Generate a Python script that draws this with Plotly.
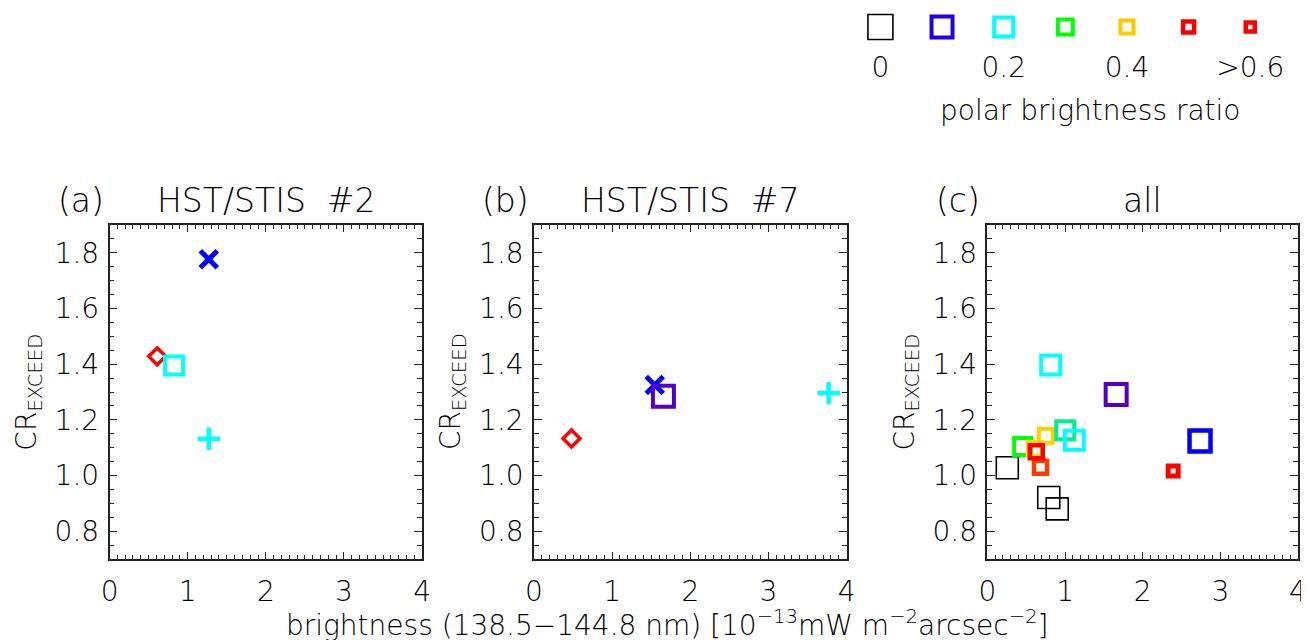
import plotly.graph_objects as go

W, H = 1309, 640

# ---------------- data ----------------
# panel (a) HST/STIS #2
a_diamond_x, a_diamond_y = [0.61], [1.428]
a_square_x, a_square_y = [0.826], [1.395]
a_cross_x, a_cross_y = [1.27], [1.777]
a_plus_x, a_plus_y = [1.27], [1.132]

# panel (b) HST/STIS #7
b_diamond_x, b_diamond_y = [0.48], [1.133]
b_cross_x, b_cross_y = [1.545], [1.325]
b_square_x, b_square_y = [1.656], [1.285]
b_plus_x, b_plus_y = [3.77], [1.296]

# panel (c) all  (brightness, CR_EXCEED, polar brightness ratio)
c_x = [0.256, 0.79, 0.899, 0.453, 0.61, 0.752, 1.002, 1.119, 0.815, 1.658, 2.738, 0.684, 0.629, 2.392]
c_y = [1.028, 0.921, 0.880, 1.104, 1.096, 1.143, 1.163, 1.127, 1.397, 1.291, 1.124, 1.030, 1.085, 1.016]
c_ratio = [0.0, 0.0, 0.0, 0.30, 0.37, 0.40, 0.25, 0.20, 0.20, 0.08, 0.10, 0.55, 0.50, 0.70]

# legend of the colour scale
leg_ratio = [0.0, 0.1, 0.2, 0.3, 0.4, 0.5, 0.6]
leg_tickvals = [0.0, 0.2, 0.4, 0.6]
leg_ticktext = ["0", "0.2", "0.4", ">0.6"]

# ---------------- styles ----------------
c_color = ["#000000", "#000000", "#000000", "#00ff00", "#ffe000", "#ffd000", "#00f090",
           "#00ffff", "#00ffff", "#5000c8", "#0000ff", "#ff3a00", "#ff0000", "#ff0000"]
c_size = [22, 22, 22, 17, 14, 14, 18, 19, 19, 21, 21, 13, 13, 10]
c_lw = [1.6, 1.6, 1.6, 4, 4, 4, 4, 4, 4, 4, 4.5, 4.5, 4.5, 5]
leg_color = ["#000000", "#2000f0", "#00ffff", "#00ff00", "#ffc800", "#ff0000", "#ff0000"]
leg_size = [25, 21, 19, 15, 13, 11, 9]
leg_lw = [1.6, 4, 4, 4, 4, 4.5, 4.5]

FONT = "DejaVu Sans"
AXC = "#222222"
TICK_FS = 28
TITLE_FS = 33

fig = go.Figure()

def add(x, y, xa, ya, symbol, color, size, lw):
    fig.add_trace(go.Scatter(x=x, y=y, xaxis=xa, yaxis=ya, mode="markers",
                             marker=dict(symbol=symbol, color=color, size=size, opacity=1,
                                         line=dict(color=color, width=lw)),
                             showlegend=False, hoverinfo="x+y"))

# panel a
add(a_diamond_x, a_diamond_y, "x", "y", "diamond-open", "#ff0000", 13, 3.5)
add(a_square_x, a_square_y, "x", "y", "square-open", "#00ffff", 18, 4)
add(a_cross_x, a_cross_y, "x", "y", "x-thin-open", "#0000ff", 17, 5)
add(a_plus_x, a_plus_y, "x", "y", "cross-thin-open", "#00ffff", 16, 4.5)
# panel b
add(b_diamond_x, b_diamond_y, "x2", "y2", "diamond-open", "#ff0000", 13, 3.5)
add(b_cross_x, b_cross_y, "x2", "y2", "x-thin-open", "#0000ff", 17, 5)
add(b_square_x, b_square_y, "x2", "y2", "square-open", "#5000c8", 21, 4)
add(b_plus_x, b_plus_y, "x2", "y2", "cross-thin-open", "#00ffff", 16, 4.5)
# panel c
fig.add_trace(go.Scatter(x=c_x, y=c_y, xaxis="x3", yaxis="y3", mode="markers",
                         customdata=c_ratio,
                         marker=dict(symbol="square-open", color=c_color, size=c_size, opacity=1,
                                     line=dict(color=c_color, width=c_lw)),
                         showlegend=False))
# colour legend
fig.add_trace(go.Scatter(x=leg_ratio, y=[0] * len(leg_ratio), xaxis="x4", yaxis="y4",
                         mode="markers",
                         marker=dict(symbol="square-open", color=leg_color, size=leg_size, opacity=1,
                                     line=dict(color=leg_color, width=leg_lw)),
                         showlegend=False, hoverinfo="x"))

# page offset compensation (figure is rendered slightly offset / narrowed)
OX, SX, OY = 15.35, 0.9875, 8.0

def clamp(v):
    return max(0.0, min(1.0, v))

def px_x(p):
    return clamp((p - OX) / (W * SX))

def px_y(p):
    return clamp(1 - (p - OY) / H)

ydom = [px_y(559), px_y(225)]
panels = [(108, 421), (533, 846), (987, 1298)]

common = dict(showline=True, linecolor=AXC, linewidth=1.6, mirror="ticks",
              ticks="inside", tickcolor=AXC, tickwidth=1.3, showgrid=False,
              zeroline=False, tickfont=dict(family=FONT, size=TICK_FS, color="black", weight=300))

layout = dict(width=W, height=H, margin=dict(l=0, r=0, t=0, b=0),
              paper_bgcolor="white", plot_bgcolor="white", showlegend=False,
              font=dict(family=FONT, color="black"))

for i, (l, r) in enumerate(panels):
    s = "" if i == 0 else str(i + 1)
    layout["xaxis" + s] = dict(common, domain=[px_x(l), px_x(r)], range=[0, 4],
                               dtick=1, ticklen=7, anchor="y" + s,
                               ticklabelstandoff=7,
                               minor=dict(ticks="inside", dtick=0.1, ticklen=4,
                                          tickcolor=AXC, tickwidth=1.2))
    layout["yaxis" + s] = dict(common, domain=ydom, range=[0.7, 1.9],
                               tickvals=[0.8, 1.0, 1.2, 1.4, 1.6, 1.8],
                               ticktext=["0.8", "1.0", "1.2", "1.4", "1.6", "1.8"],
                               ticklen=8, anchor="x" + s, ticklabelstandoff=3,
                               minor=dict(ticks="inside", tickvals=[0.75 + 0.05 * k for k in range(23)],
                                          ticklen=5, tickcolor=AXC, tickwidth=1.2))

layout["xaxis4"] = dict(domain=[px_x(849), px_x(1281)], range=[-0.05, 0.65], anchor="y4",
                        showline=False, showgrid=False, zeroline=False, ticks="",
                        tickvals=leg_tickvals, ticktext=leg_ticktext,
                        ticklabelstandoff=0,
                        tickfont=dict(family=FONT, size=TICK_FS, color="black", weight=300))
layout["yaxis4"] = dict(domain=[px_y(48), px_y(8)], range=[-21, 19], visible=False, anchor="x4")

fig.update_layout(**layout)

titles = [("(a)", "HST/STIS  #2"), ("(b)", "HST/STIS  #7"), ("(c)", "all")]
for i, ((l, r), (lab, ttl)) in enumerate(zip(panels, titles)):
    s = "" if i == 0 else str(i + 1)
    fig.add_annotation(text=ttl, xref="x" + s + " domain", x=0.5, yref="paper",
                       y=px_y(201), xanchor="center", yanchor="middle", showarrow=False,
                       font=dict(family=FONT, size=TITLE_FS, color="black", weight=300))
    fig.add_annotation(text=lab, xref="paper", x=px_x(l - 29), yref="paper",
                       y=px_y(201), xanchor="center", yanchor="middle", showarrow=False,
                       font=dict(family=FONT, size=TITLE_FS, color="black", weight=300))
    fig.add_annotation(text="CR<sub>EXCEED</sub>", xref="paper", x=px_x(l - 82),
                       yref="paper", y=px_y(392), xanchor="center", yanchor="middle",
                       textangle=-90, showarrow=False,
                       font=dict(family=FONT, size=TICK_FS, color="black", weight=300))

fig.add_annotation(text="brightness (138.5−144.8 nm) [10<sup>−13</sup>mW m<sup>−2</sup>arcsec<sup>−2</sup>]",
                   xref="paper", x=px_x(667), yref="paper", y=px_y(623),
                   xanchor="center", yanchor="middle", showarrow=False,
                   font=dict(family=FONT, size=TICK_FS, color="black", weight=300))
fig.add_annotation(text="polar brightness ratio", xref="paper", x=px_x(1090),
                   yref="paper", y=px_y(110), xanchor="center", yanchor="middle",
                   showarrow=False, font=dict(family=FONT, size=TICK_FS, color="black", weight=300))

fig.write_html("out.html")
